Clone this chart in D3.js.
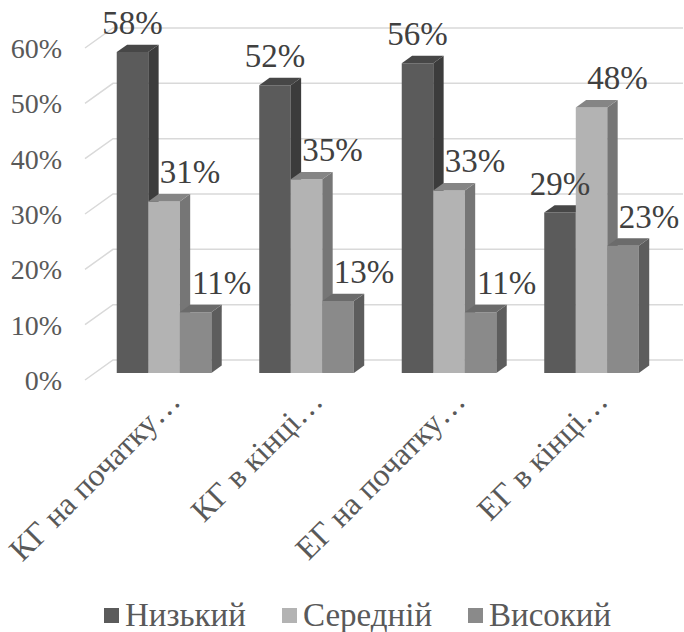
<!DOCTYPE html>
<html>
<head>
<meta charset="utf-8">
<script src="https://cdn.jsdelivr.net/npm/d3@7"></script>
<style>
  body { margin: 0; background: #fff; }
</style>
</head>
<body>
<svg id="chart" width="684" height="632"></svg>
<script>
// données
var categories = ["КГ на початку…", "КГ в кінці…", "ЕГ на початку…", "ЕГ в кінці…"];
var series = ["Низький", "Середній", "Високий"];
var nyzkyi = [58, 52, 56, 29];
var serednii = [31, 35, 33, 48];
var vysokyi = [11, 13, 11, 23];
var ticks = [0, 10, 20, 30, 40, 50, 60];

var values = [nyzkyi, serednii, vysokyi];
var serif = "Liberation Serif";

// couleurs : face avant, dessus, côté
var colors = [
  {front: "#5b5b5b", top: "#474747", side: "#3c3c3c"},
  {front: "#b3b3b3", top: "#858585", side: "#767676"},
  {front: "#8a8a8a", top: "#6b6b6b", side: "#5d5d5d"}
];

var svg = d3.select("#chart");

// profondeur de la perspective (décalage du mur du fond)
var DX = 28, DY = 20;
var z0 = 0.35, z1 = 0.72; // profondeur des barres

// échelles dans le plan avant
var yScale = d3.scaleLinear().domain([0, 60]).range([380, 48]);
var x0 = d3.scaleBand().domain(categories).range([83, 653])
  .paddingInner(0.336).paddingOuter(0.168);
var x1 = d3.scaleBand().domain(series).range([0, x0.bandwidth()]);

function px(x, z) { return x + z * DX; }
function py(v, z) { return yScale(v) - z * DY; }

// grille : mur gauche + mur du fond
var grid = svg.append("g");
ticks.forEach(function(t) {
  grid.append("path")
    .attr("d", "M" + px(85, 0) + "," + py(t, 0) + "L" + px(85, 1) + "," + py(t, 1) + "L683," + py(t, 1))
    .attr("fill", "none")
    .attr("stroke", "#d9d9d9")
    .attr("stroke-width", 1.5);
});

// étiquettes de l'axe des ordonnées
svg.append("g").selectAll("text")
  .data(ticks)
  .enter().append("text")
  .attr("x", 62)
  .attr("y", function(d) { return yScale(d) + 10; })
  .attr("text-anchor", "end")
  .attr("fill", "#595959")
  .attr("font-family", serif)
  .attr("font-size", 28)
  .text(function(d) { return d + "%"; });

// barres 3D
var bars = svg.append("g");
var labels = [];
categories.forEach(function(c, i) {
  series.forEach(function(s, j) {
    var v = values[j][i];
    var xl = x0(c) + x1(s);
    var xr = xl + x1.bandwidth();
    var col = colors[j];
    var fl = px(xl, z0), fr = px(xr, z0);
    var bl = px(xl, z1), br = px(xr, z1);
    var ft = py(v, z0), fb = py(0, z0);
    var bt = py(v, z1), bb = py(0, z1);
    // face avant
    bars.append("path")
      .attr("d", "M" + fl + "," + fb + "L" + fr + "," + fb + "L" + fr + "," + ft + "L" + fl + "," + ft + "Z")
      .attr("fill", col.front);
    // côté droit
    bars.append("path")
      .attr("d", "M" + fr + "," + fb + "L" + br + "," + bb + "L" + br + "," + bt + "L" + fr + "," + ft + "Z")
      .attr("fill", col.side);
    // dessus
    bars.append("path")
      .attr("d", "M" + fl + "," + ft + "L" + fr + "," + ft + "L" + br + "," + bt + "L" + bl + "," + bt + "Z")
      .attr("fill", col.top);
    labels.push({x: (fl + fr) / 2 + (j > 0 ? 26 : 0), y: ft - 18, v: v});
  });
});

// étiquettes de valeurs
svg.append("g").selectAll("text")
  .data(labels)
  .enter().append("text")
  .attr("x", function(d) { return d.x; })
  .attr("y", function(d) { return d.y; })
  .attr("text-anchor", "middle")
  .attr("fill", "#404040")
  .attr("font-family", serif)
  .attr("font-size", 33)
  .text(function(d) { return d.v + "%"; });

// étiquettes des catégories, inclinées
svg.append("g").selectAll("text")
  .data(categories)
  .enter().append("text")
  .attr("transform", function(d) {
    return "translate(" + (x0(d) + x0.bandwidth() / 2 + 8) + ",383) rotate(-45)";
  })
  .attr("dy", "0.88em")
  .attr("text-anchor", "end")
  .attr("fill", "#595959")
  .attr("font-family", serif)
  .attr("font-size", 32)
  .text(function(d) { return d; });

// légende
var legendX = [104, 282, 468];
var legend = svg.append("g").selectAll("g")
  .data(series)
  .enter().append("g")
  .attr("transform", function(d, i) { return "translate(" + legendX[i] + ",608)"; });
legend.append("rect")
  .attr("width", 15).attr("height", 15)
  .attr("fill", function(d, i) { return colors[i].front; });
legend.append("text")
  .attr("x", 21).attr("y", 18)
  .attr("fill", "#595959")
  .attr("font-family", serif)
  .attr("font-size", 33)
  .text(function(d) { return d; });
</script>
</body>
</html>
